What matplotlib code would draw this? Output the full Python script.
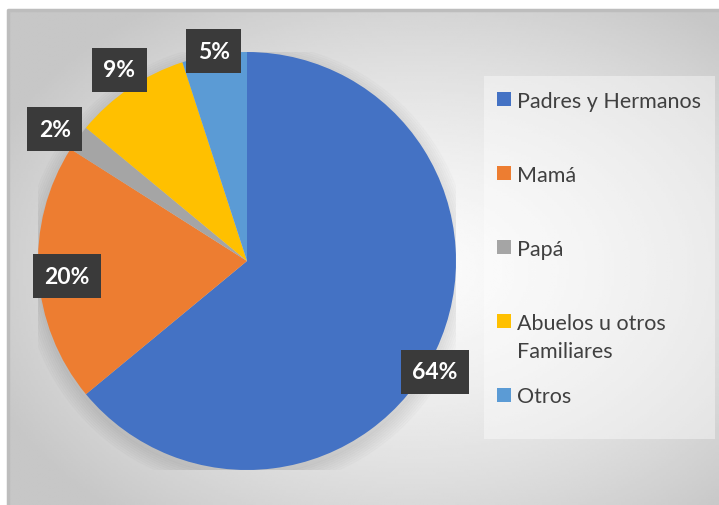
import numpy as np
import matplotlib
matplotlib.use("Agg")
import matplotlib.pyplot as plt
from matplotlib.patches import Rectangle

categories = ["Padres y Hermanos", "Mamá", "Papá", "Abuelos u otros\nFamiliares", "Otros"]
values = [64, 20, 2, 9, 5]
colors = ["#4472C4", "#ED7D31", "#A5A5A5", "#FFC000", "#5B9BD5"]
label_radius = [1.045, 0.864, 1.115, 1.10, 1.017]
label_angle_shift = [-5.3, 1.2, 1.5, -0.4, 0.0]

plt.rcParams['font.family'] = ['Lato', 'DejaVu Sans']
plt.rcParams['hatch.color'] = '#555555'
plt.rcParams['hatch.linewidth'] = 1.5

W, H = 719, 506
fig = plt.figure(figsize=(W / 100, H / 100), dpi=100)
fig.patch.set_facecolor('white')

# background radial gradient of chart area
x0, y0, x1, y1 = 8, 0, 719, 495
bg = fig.add_axes([x0 / W, y0 / H, (x1 - x0) / W, (y1 - y0) / H])
bg.set_axis_off()
nx, ny = 300, 220
xx, yy = np.meshgrid(np.linspace(-1, 1, nx), np.linspace(-1, 1, ny))
r = np.sqrt(((xx - 0.15) / 1.0) ** 2 + ((yy + 0.05) / 1.0) ** 2)
r = np.clip(r / 1.3, 0, 1)
c = 0.985 - (0.985 - 0.78) * r ** 1.4
bg.imshow(c, cmap='gray', vmin=0, vmax=1, extent=[0, 1, 0, 1], aspect='auto', origin='lower')
bg.set_xlim(0, 1); bg.set_ylim(0, 1)
bg.plot([0, 0, 1], [0, 1, 1], color='#bdbdbd', lw=2.5, transform=bg.transAxes, clip_on=False)

# legend panel
panel = Rectangle((484 / W, (H - 440) / H), (715 - 484) / W, (440 - 77) / H,
                  transform=fig.transFigure, facecolor='white', alpha=0.4,
                  edgecolor='none', zorder=1)
fig.patches.append(panel)

# pie
cx, cy, rad = 247, H - 262, 209
ax = fig.add_axes([(cx - rad) / W, (cy - rad) / H, 2 * rad / W, 2 * rad / H])
ax.set_axis_off()

wedges, _ = ax.pie(values, colors=colors, startangle=90, counterclock=False,
                   radius=1.0, wedgeprops=dict(linewidth=0))
for w in wedges:
    w.set_zorder(2)
ax.set_xlim(-1, 1); ax.set_ylim(-1, 1)
ax.set_aspect('auto')

# soft shadow
for i in range(8):
    sh = plt.Circle((0.0, -0.025), 1.0 + 0.01 * i, color='black', alpha=0.012, zorder=0)
    ax.add_patch(sh)

total = sum(values)
for w, v, lr, da in zip(wedges, values, label_radius, label_angle_shift):
    ang = np.deg2rad((w.theta1 + w.theta2) / 2 + da)
    x, y = lr * np.cos(ang), lr * np.sin(ang)
    ax.text(x, y, f"{round(100 * v / total)}%", ha='center', va='center',
            fontsize=16.5, fontweight='bold', color='white', zorder=5,
            bbox=dict(boxstyle='square,pad=0.5', facecolor='#3a3a3a',
                      edgecolor='#3a3a3a', hatch='..', linewidth=0))

# legend (manual layout, Excel style)
leg_centres = [100, 174, 248, 322, 396]  # px from top, first line of each entry
line_step = 29
for cat, col, ty in zip(categories, colors, leg_centres):
    fig.patches.append(Rectangle((497 / W, (H - ty - 7) / H), 14 / W, 14 / H,
                                 transform=fig.transFigure, facecolor=col,
                                 edgecolor='none', zorder=3))
    for k, line in enumerate(cat.split('\n')):
        fig.text(517 / W, (H - ty - 7.5 - k * line_step) / H, line, ha='left',
                 va='baseline', fontsize=15.5, color='#404040', zorder=3)

fig.savefig('out.png', dpi=100)
